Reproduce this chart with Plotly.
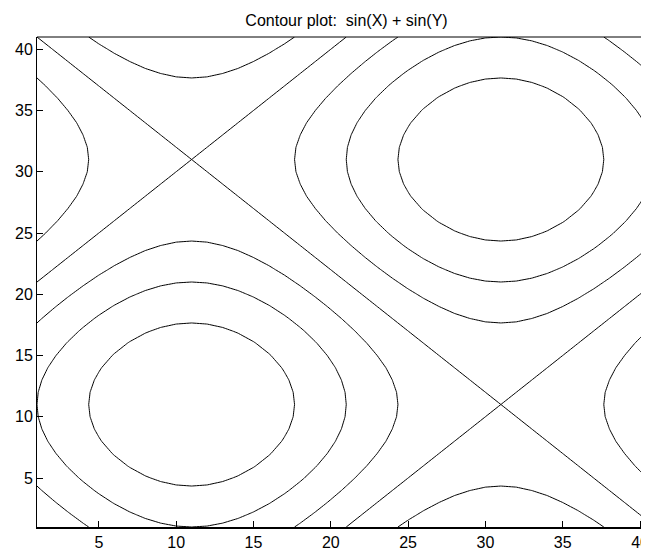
import plotly.graph_objects as go

# grid index 1..41 along both axes
grid_idx = list(range(1, 42))

# sin() profile sampled along each axis (41 points, -pi .. pi)
sin_profile = [0.0, -0.156, -0.309, -0.454, -0.588, -0.707, -0.809, -0.891, -0.951, -0.988,
               -1.0, -0.988, -0.951, -0.891, -0.809, -0.707, -0.588, -0.454, -0.309, -0.156,
               0.0, 0.156, 0.309, 0.454, 0.588, 0.707, 0.809, 0.891, 0.951, 0.988,
               1.0, 0.988, 0.951, 0.891, 0.809, 0.707, 0.588, 0.454, 0.309, 0.156, 0.0]

# contour levels
level_start = -1.5
level_end = 1.5
level_step = 0.5

tick_vals = [5, 10, 15, 20, 25, 30, 35, 40]

# Z = sin(X) + sin(Y), rows follow Y
z = [[sy + sx for sx in sin_profile] for sy in sin_profile]

fig = go.Figure()
fig.add_trace(go.Contour(
    x=grid_idx,
    y=grid_idx,
    z=z,
    contours=dict(coloring='none', start=level_start, end=level_end, size=level_step),
    line=dict(color='black', width=1, smoothing=0),
    showscale=False,
    hoverinfo='skip'
))

axis_font = dict(family='Liberation Sans, Arial, sans-serif', size=16, color='black')

# the page body adds an 8px margin, so the figure is sized to fill the rest
W, H = 641, 544

fig.update_layout(
    width=W,
    height=H,
    margin=dict(l=29, r=0, t=29, b=25),
    paper_bgcolor='white',
    plot_bgcolor='white',
    showlegend=False,
    title=dict(
        text='Contour plot:\u00a0 sin(X) + sin(Y)',
        font=axis_font,
        xref='container', x=338.5 / W, xanchor='center',
        yref='container', y=1 - 12 / H, yanchor='middle'
    ),
    xaxis=dict(
        range=[1, 40.58],
        tickvals=tick_vals,
        ticks='inside', ticklen=6, tickcolor='black',
        showgrid=False, zeroline=False, automargin=False,
        showline=True, linecolor='black', linewidth=2, mirror=False,
        tickfont=axis_font, ticklabeloverflow='allow'
    ),
    yaxis=dict(
        range=[1, 41],
        tickvals=tick_vals,
        ticks='inside', ticklen=6, tickcolor='black',
        showgrid=False, zeroline=False, automargin=False,
        showline=True, linecolor='black', linewidth=1, mirror=False,
        tickfont=axis_font
    ),
    # thin frame line along the top of the axes box
    shapes=[dict(type='line', xref='paper', yref='paper', x0=0, x1=1, y0=1, y1=1,
                 line=dict(color='black', width=1))]
)

fig.write_html("out.html")
